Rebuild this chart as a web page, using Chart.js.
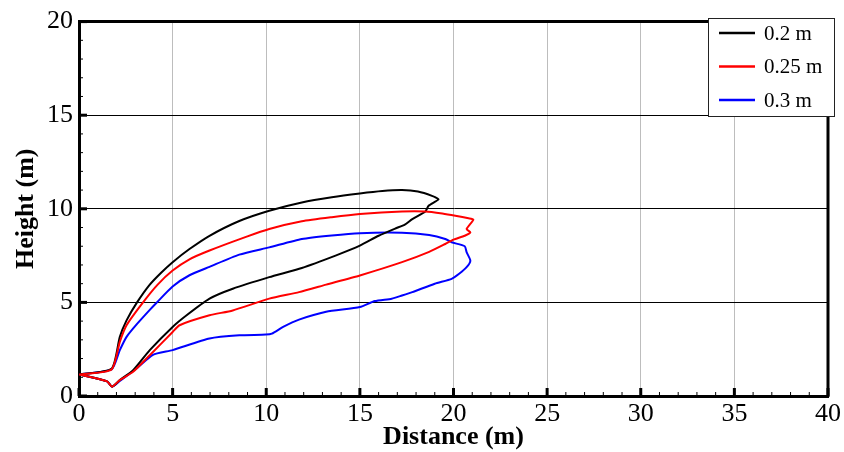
<!DOCTYPE html>
<html>
<head>
<meta charset="utf-8">
<script src="https://cdn.jsdelivr.net/npm/chart.js@4.4.1/dist/chart.umd.min.js"></script>
<style>
  body { margin: 0; background: #fff; }
</style>
</head>
<body>
<canvas id="height-chart" width="844" height="452"></canvas>
<script>
const labels = ['0.2 m', '0.25 m', '0.3 m'];
const colors = ['#000000', '#ff0000', '#0000ff'];

// each outline is a closed loop: upper edge out to the tip, lower edge back
const dist02 = [0, 1.74, 2.18, 2.54, 3.1, 3.78, 4.4, 5.0, 5.9, 6.97, 8.56, 10.16, 11.9, 13.5, 15.0, 16.2, 17.25, 18.1, 18.85, 19.2, 18.67, 18.5, 17.8, 17.4, 16.9, 16.0, 15.0, 13.7, 11.9, 10.16, 8.21, 6.97, 5.73, 5.0, 3.78, 2.89, 2.18, 1.77, 1.5, 0];
const height02 = [1.15, 1.45, 3.16, 4.04, 5.0, 5.95, 6.6, 7.15, 7.85, 8.56, 9.35, 9.9, 10.34, 10.62, 10.82, 10.95, 11.0, 10.92, 10.69, 10.51, 10.16, 9.86, 9.45, 9.15, 8.95, 8.56, 8.03, 7.5, 6.84, 6.35, 5.73, 5.2, 4.3, 3.69, 2.45, 1.38, 0.85, 0.5, 0.78, 1.15];

const dist025 = [0, 1.74, 2.18, 2.54, 3.42, 4.2, 5.0, 5.9, 6.97, 8.92, 10.16, 11.9, 13.5, 15.0, 17.25, 18.5, 19.4, 20.1, 20.8, 21.06, 20.7, 20.9, 20.6, 20.0, 19.56, 18.7, 17.25, 15.0, 13.2, 11.75, 10.16, 8.21, 6.97, 5.37, 5.0, 3.78, 2.89, 2.18, 1.77, 1.5, 0];
const height025 = [1.15, 1.42, 2.89, 3.78, 5.0, 5.95, 6.7, 7.3, 7.77, 8.5, 8.92, 9.33, 9.55, 9.72, 9.86, 9.86, 9.75, 9.63, 9.49, 9.42, 8.92, 8.74, 8.56, 8.35, 8.12, 7.7, 7.15, 6.44, 5.95, 5.55, 5.2, 4.57, 4.31, 3.78, 3.42, 2.18, 1.29, 0.85, 0.5, 0.78, 1.15];

const dist03 = [0, 1.74, 2.18, 2.54, 3.1, 3.78, 4.13, 5.0, 5.9, 6.97, 8.56, 10.16, 11.9, 13.5, 15.0, 17.25, 18.7, 19.56, 19.9, 20.6, 20.7, 20.9, 20.7, 20.3, 19.9, 19.0, 17.8, 17.25, 16.7, 15.8, 15.0, 13.2, 11.75, 10.9, 10.3, 9.98, 8.56, 6.97, 5.0, 3.95, 3.07, 2.18, 1.77, 1.5, 0];
const height03 = [1.15, 1.42, 2.45, 3.16, 3.85, 4.6, 4.97, 5.85, 6.45, 6.9, 7.55, 7.94, 8.39, 8.58, 8.7, 8.72, 8.6, 8.39, 8.21, 8.0, 7.68, 7.23, 6.88, 6.53, 6.26, 6.0, 5.55, 5.37, 5.2, 5.07, 4.75, 4.5, 4.08, 3.69, 3.33, 3.28, 3.24, 3.07, 2.45, 2.2, 1.47, 0.8, 0.5, 0.78, 1.15];

const xTicks = [0, 5, 10, 15, 20, 25, 30, 35, 40];
const yTicks = [0, 5, 10, 15, 20];

const toPoints = (xs, ys) => xs.map((x, i) => ({ x: x, y: ys[i] }));

const serif = "'Liberation Serif', 'Times New Roman', serif";

// frame, inward ticks and the boxed legend
const framePlugin = {
    id: 'frame',
    afterDatasetsDraw(chart) {
        const { ctx, chartArea: a, scales: { x, y } } = chart;
        ctx.save();
        ctx.strokeStyle = '#000';

        // minor ticks every 1 m
        ctx.lineWidth = 1;
        for (let v = 1; v < 40; v++) {
            if (v % 5 === 0) continue;
            const px = x.getPixelForValue(v);
            ctx.beginPath(); ctx.moveTo(px, a.bottom); ctx.lineTo(px, a.bottom - 4); ctx.stroke();
        }
        for (let v = 1; v < 20; v++) {
            if (v % 5 === 0) continue;
            const py = y.getPixelForValue(v);
            ctx.beginPath(); ctx.moveTo(a.left, py); ctx.lineTo(a.left + 4, py); ctx.stroke();
        }
        // major ticks
        ctx.lineWidth = 3;
        xTicks.forEach(v => {
            const px = x.getPixelForValue(v);
            ctx.beginPath(); ctx.moveTo(px, a.bottom); ctx.lineTo(px, a.bottom - 8); ctx.stroke();
        });
        yTicks.forEach(v => {
            const py = y.getPixelForValue(v);
            ctx.beginPath(); ctx.moveTo(a.left, py); ctx.lineTo(a.left + 8, py); ctx.stroke();
        });
        // top and right edges
        ctx.beginPath();
        ctx.moveTo(a.left - 1, a.top);
        ctx.lineTo(a.right, a.top);
        ctx.lineTo(a.right, a.bottom + 1);
        ctx.stroke();

        // legend
        const lx = 708, ly = 18, lw = 126, lh = 98;
        ctx.fillStyle = '#fff';
        ctx.fillRect(lx, ly, lw, lh);
        ctx.lineWidth = 1;
        ctx.strokeStyle = '#222';
        ctx.strokeRect(lx + 0.5, ly + 0.5, lw, lh);
        ctx.font = "21px " + serif;
        ctx.textBaseline = 'middle';
        chart.data.datasets.forEach((ds, i) => {
            const rowY = 33 + i * 33.5;
            ctx.strokeStyle = ds.borderColor;
            ctx.lineWidth = 2.5;
            ctx.beginPath(); ctx.moveTo(719, rowY); ctx.lineTo(755, rowY); ctx.stroke();
            ctx.fillStyle = '#000';
            ctx.fillText(ds.label, 764, rowY + 1);
        });
        ctx.restore();
    }
};

const ctx = document.getElementById('height-chart');

new Chart(ctx, {
    type: 'scatter',
    data: {
        datasets: [
            { label: labels[0], data: toPoints(dist02, height02), borderColor: colors[0], order: 1 },
            { label: labels[1], data: toPoints(dist025, height025), borderColor: colors[1], order: 0 },
            { label: labels[2], data: toPoints(dist03, height03), borderColor: colors[2], order: 2 }
        ].map(ds => Object.assign(ds, {
            showLine: true,
            borderWidth: 2,
            pointRadius: 0,
            tension: 0.2,
            fill: false
        }))
    },
    options: {
        responsive: false,
        animation: false,
        layout: { padding: { left: 0, right: 13, top: 20, bottom: 0 } },
        plugins: {
            legend: { display: false },
            tooltip: { enabled: false }
        },
        scales: {
            x: {
                type: 'linear',
                min: 0,
                max: 40,
                afterFit: s => { s.height = 56; },
                afterBuildTicks: s => { s.ticks = xTicks.map(v => ({ value: v })); },
                ticks: { color: '#000', padding: 3, font: { family: serif, size: 26 } },
                grid: { color: '#bdbdbd', lineWidth: 1, drawTicks: false },
                border: { color: '#000', width: 3 },
                title: {
                    display: true,
                    text: 'Distance (m)',
                    color: '#000',
                    padding: { top: 0, bottom: 0 },
                    font: { family: serif, size: 26, weight: 'bold', lineHeight: 1.1 }
                }
            },
            y: {
                type: 'linear',
                min: 0,
                max: 20,
                afterFit: s => { s.width = 79; },
                afterBuildTicks: s => { s.ticks = yTicks.map(v => ({ value: v })); },
                ticks: { color: '#000', padding: 6, font: { family: serif, size: 26 } },
                grid: { color: '#000', lineWidth: 1, drawTicks: false },
                border: { color: '#000', width: 3 },
                title: {
                    display: true,
                    text: 'Height (m)',
                    color: '#000',
                    padding: { top: 11, bottom: 0 },
                    font: { family: serif, size: 26, weight: 'bold', lineHeight: 1.2 }
                }
            }
        }
    },
    plugins: [framePlugin]
});
</script>
</body>
</html>
